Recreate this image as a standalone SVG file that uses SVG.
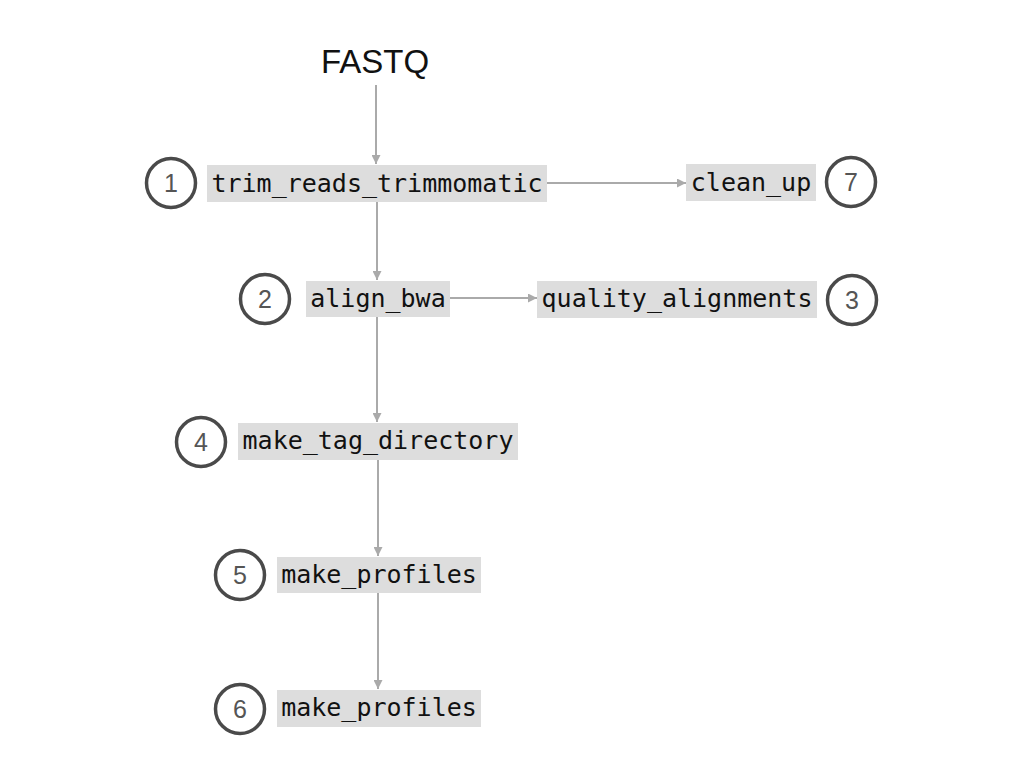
<svg xmlns="http://www.w3.org/2000/svg" width="1024" height="768" viewBox="0 0 1024 768">
<defs>
<style>
.box{fill:#dddddd}
.lbl{font-family:"DejaVu Sans Mono","Liberation Mono",monospace;font-size:25px;fill:#111;text-anchor:middle}
.ring{fill:#fff;stroke:#4a4a4a;stroke-width:3.5}
.num{font-family:"Liberation Sans","DejaVu Sans",sans-serif;font-size:25px;fill:#555;text-anchor:middle;font-weight:300}
.edge{stroke:#aaaaaa;stroke-width:2;fill:none;marker-end:url(#ah)}
</style>
<marker id="ah" viewBox="0 0 10 10" refX="10" refY="5" markerWidth="4.5" markerHeight="4.5" orient="auto" markerUnits="strokeWidth">
<path d="M0,0 L10,5 L0,10 z" fill="#aaaaaa"/>
</marker>
</defs>
<rect width="1024" height="768" fill="#fff"/>
<g id="connectors">
<line class="edge" x1="376" y1="85" x2="376" y2="164"/>
<line class="edge" x1="377" y1="202" x2="377" y2="280"/>
<line class="edge" x1="547" y1="183" x2="686" y2="183"/>
<line class="edge" x1="450" y1="298" x2="537" y2="298"/>
<line class="edge" x1="377" y1="317" x2="377" y2="422"/>
<line class="edge" x1="378" y1="460" x2="378" y2="556"/>
<line class="edge" x1="378" y1="593" x2="378" y2="689"/>
</g>
<g id="fastq">
<text x="375" y="73" font-family="Liberation Sans, Arial, sans-serif" font-size="33" fill="#111" text-anchor="middle">FASTQ</text>
</g>
<g id="n1">
<circle class="ring" cx="171" cy="183" r="24.5"/>
<text class="num" x="171" y="192">1</text>
<rect class="box" x="207" y="165" width="340" height="37"/>
<text class="lbl" x="377" y="192">trim_reads_trimmomatic</text>
</g>
<g id="n7">
<rect class="box" x="686" y="164" width="130" height="37"/>
<text class="lbl" x="751" y="191">clean_up</text>
<circle class="ring" cx="851" cy="182" r="24.5"/>
<text class="num" x="851" y="191">7</text>
</g>
<g id="n2">
<circle class="ring" cx="265" cy="299" r="24.5"/>
<text class="num" x="265" y="308">2</text>
<rect class="box" x="306" y="281" width="144" height="36"/>
<text class="lbl" x="378" y="307">align_bwa</text>
</g>
<g id="n3">
<rect class="box" x="537" y="281" width="280" height="37"/>
<text class="lbl" x="677" y="307">quality_alignments</text>
<circle class="ring" cx="852" cy="300" r="24.5"/>
<text class="num" x="852" y="309">3</text>
</g>
<g id="n4">
<circle class="ring" cx="201" cy="442" r="24.5"/>
<text class="num" x="201" y="451">4</text>
<rect class="box" x="238" y="423" width="280" height="37"/>
<text class="lbl" x="378" y="449">make_tag_directory</text>
</g>
<g id="n5">
<circle class="ring" cx="240" cy="575" r="24.5"/>
<text class="num" x="240" y="584">5</text>
<rect class="box" x="277" y="557" width="204" height="36"/>
<text class="lbl" x="379" y="583">make_profiles</text>
</g>
<g id="n6">
<circle class="ring" cx="240" cy="709" r="24.5"/>
<text class="num" x="240" y="718">6</text>
<rect class="box" x="277" y="690" width="204" height="37"/>
<text class="lbl" x="379" y="716">make_profiles</text>
</g>
</svg>
